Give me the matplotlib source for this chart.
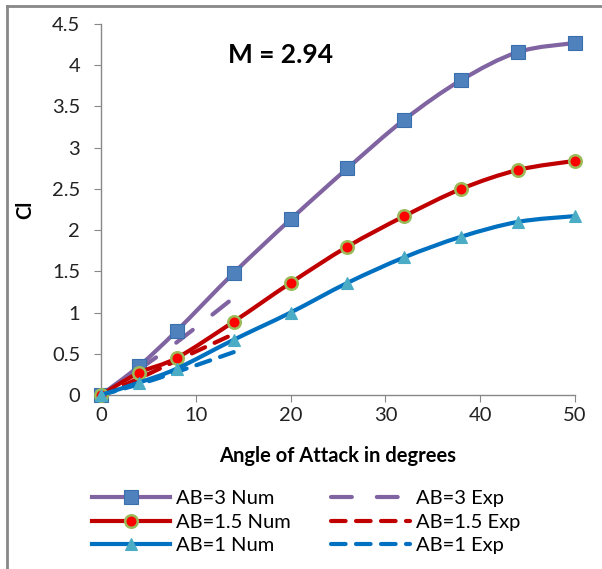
import matplotlib
matplotlib.use("Agg")
import matplotlib.pyplot as plt
from matplotlib.lines import Line2D
from matplotlib.path import Path
from matplotlib.patches import PathPatch

plt.rcParams['font.family'] = ['Lato', 'DejaVu Sans']

# Data
alpha_num = [0, 4, 8, 14, 20, 26, 32, 38, 44, 50]
cl_ab3_num = [0, 0.35, 0.78, 1.48, 2.13, 2.75, 3.34, 3.82, 4.16, 4.27]
cl_ab15_num = [0, 0.27, 0.45, 0.89, 1.36, 1.80, 2.17, 2.50, 2.73, 2.84]
cl_ab1_num = [0, 0.15, 0.32, 0.67, 1.00, 1.36, 1.67, 1.92, 2.10, 2.17]

alpha_exp = [0, 4, 8, 14]
cl_ab3_exp = [0, 0.31, 0.64, 1.18]
cl_ab15_exp = [0, 0.20, 0.42, 0.74]
cl_ab1_exp = [0, 0.13, 0.28, 0.52]

xticks = [0, 10, 20, 30, 40, 50]
yticks = [0, 0.5, 1, 1.5, 2, 2.5, 3, 3.5, 4, 4.5]
ytick_labels = ['0', '0.5', '1', '1.5', '2', '2.5', '3', '3.5', '4', '4.5']

purple = '#8064A2'
red = '#C00000'
blue = '#0070C0'
FS = 14.5


def smooth_path(xs, ys):
    """Excel-like smoothed line: Catmull-Rom spline as cubic Bezier path."""
    pts = list(zip(xs, ys))
    n = len(pts)
    verts = [pts[0]]
    codes = [Path.MOVETO]
    for i in range(n - 1):
        p0 = pts[i - 1] if i > 0 else pts[i]
        p1 = pts[i]
        p2 = pts[i + 1]
        p3 = pts[i + 2] if i + 2 < n else pts[i + 1]
        c1 = (p1[0] + (p2[0] - p0[0]) / 6, p1[1] + (p2[1] - p0[1]) / 6)
        c2 = (p2[0] - (p3[0] - p1[0]) / 6, p2[1] - (p3[1] - p1[1]) / 6)
        verts += [c1, c2, p2]
        codes += [Path.CURVE4] * 3
    return Path(verts, codes)


fig = plt.figure(figsize=(6.02, 5.69), dpi=100)
ax = fig.add_axes([101/602, 1-395/569, (575-101)/602, (395-24)/569])

lw = 3.0
dash3 = (5, 6)
dash_s = (3.5, 2.5)

exp_series = [(cl_ab3_exp, purple, dash3), (cl_ab15_exp, red, dash_s), (cl_ab1_exp, blue, dash_s)]
for ys, c, d in exp_series:
    p = PathPatch(smooth_path(alpha_exp, ys), fill=False, edgecolor=c, lw=lw,
                  linestyle=(0, d), capstyle='round', zorder=2, clip_on=False)
    ax.add_patch(p)

num_styles = [
    (cl_ab3_num, purple, dict(marker='s', ms=10, mfc='#4F81BD', mec='#3A6FAE', mew=0.8), 3),
    (cl_ab15_num, red, dict(marker='o', ms=9, mfc='#FF0000', mec='#9BBB59', mew=1.8), 4),
    (cl_ab1_num, blue, dict(marker='^', ms=9, mfc='#4BACC6', mec='#4BACC6', mew=0.8), 5),
]
for ys, c, mk, z in num_styles:
    ax.add_patch(PathPatch(smooth_path(alpha_num, ys), fill=False, edgecolor=c, lw=lw,
                           zorder=z, clip_on=False, joinstyle='round'))
    ax.plot(alpha_num, ys, ls='none', zorder=z + 0.5, clip_on=False, **mk)

ax.set_xlim(0, 50)
ax.set_ylim(0, 4.5)
ax.set_xticks(xticks)
ax.set_yticks(yticks)
ax.set_yticklabels(ytick_labels)
for s in ['top', 'right']:
    ax.spines[s].set_visible(False)
for s in ['left', 'bottom']:
    ax.spines[s].set_color('#888888')
    ax.spines[s].set_linewidth(1.0)
ax.tick_params(axis='both', colors='#888888', labelcolor='#222222', labelsize=FS,
               length=5, direction='out')
ax.tick_params(axis='y', pad=10)

ax.set_xlabel('Angle of Attack in degrees', fontsize=FS, fontweight='bold', labelpad=16)
ax.set_ylabel('Cl', fontsize=FS, fontweight='bold', labelpad=12)
fig.text(281/602, 1 - 55/569, 'M = 2.94', fontsize=19, fontweight='bold',
         ha='center', va='center')

handles = [
    Line2D([], [], color=purple, lw=lw, **num_styles[0][2]),
    Line2D([], [], color=red, lw=lw, **num_styles[1][2]),
    Line2D([], [], color=blue, lw=lw, **num_styles[2][2]),
    Line2D([], [], color=purple, lw=lw, dashes=dash3, dash_capstyle='round'),
    Line2D([], [], color=red, lw=lw, dashes=dash_s, dash_capstyle='round'),
    Line2D([], [], color=blue, lw=lw, dashes=dash_s, dash_capstyle='round'),
]
labels = ['AB=3 Num', 'AB=1.5 Num', 'AB=1 Num', 'AB=3 Exp', 'AB=1.5 Exp', 'AB=1 Exp']
leg = fig.legend(handles, labels, ncol=2,
                 loc='center', bbox_to_anchor=(306/602, 1 - 522/569), frameon=False,
                 fontsize=FS, handlelength=3.9, columnspacing=2.0, labelspacing=0.3,
                 handletextpad=0.3)

# figure border (left and top)
fig.add_artist(Line2D([7/602, 7/602], [0, 1 - 6/569], transform=fig.transFigure,
                      color='#888888', lw=2))
fig.add_artist(Line2D([7/602, 1], [1 - 6/569, 1 - 6/569], transform=fig.transFigure,
                      color='#888888', lw=2))

fig.savefig('out.png', dpi=100)
